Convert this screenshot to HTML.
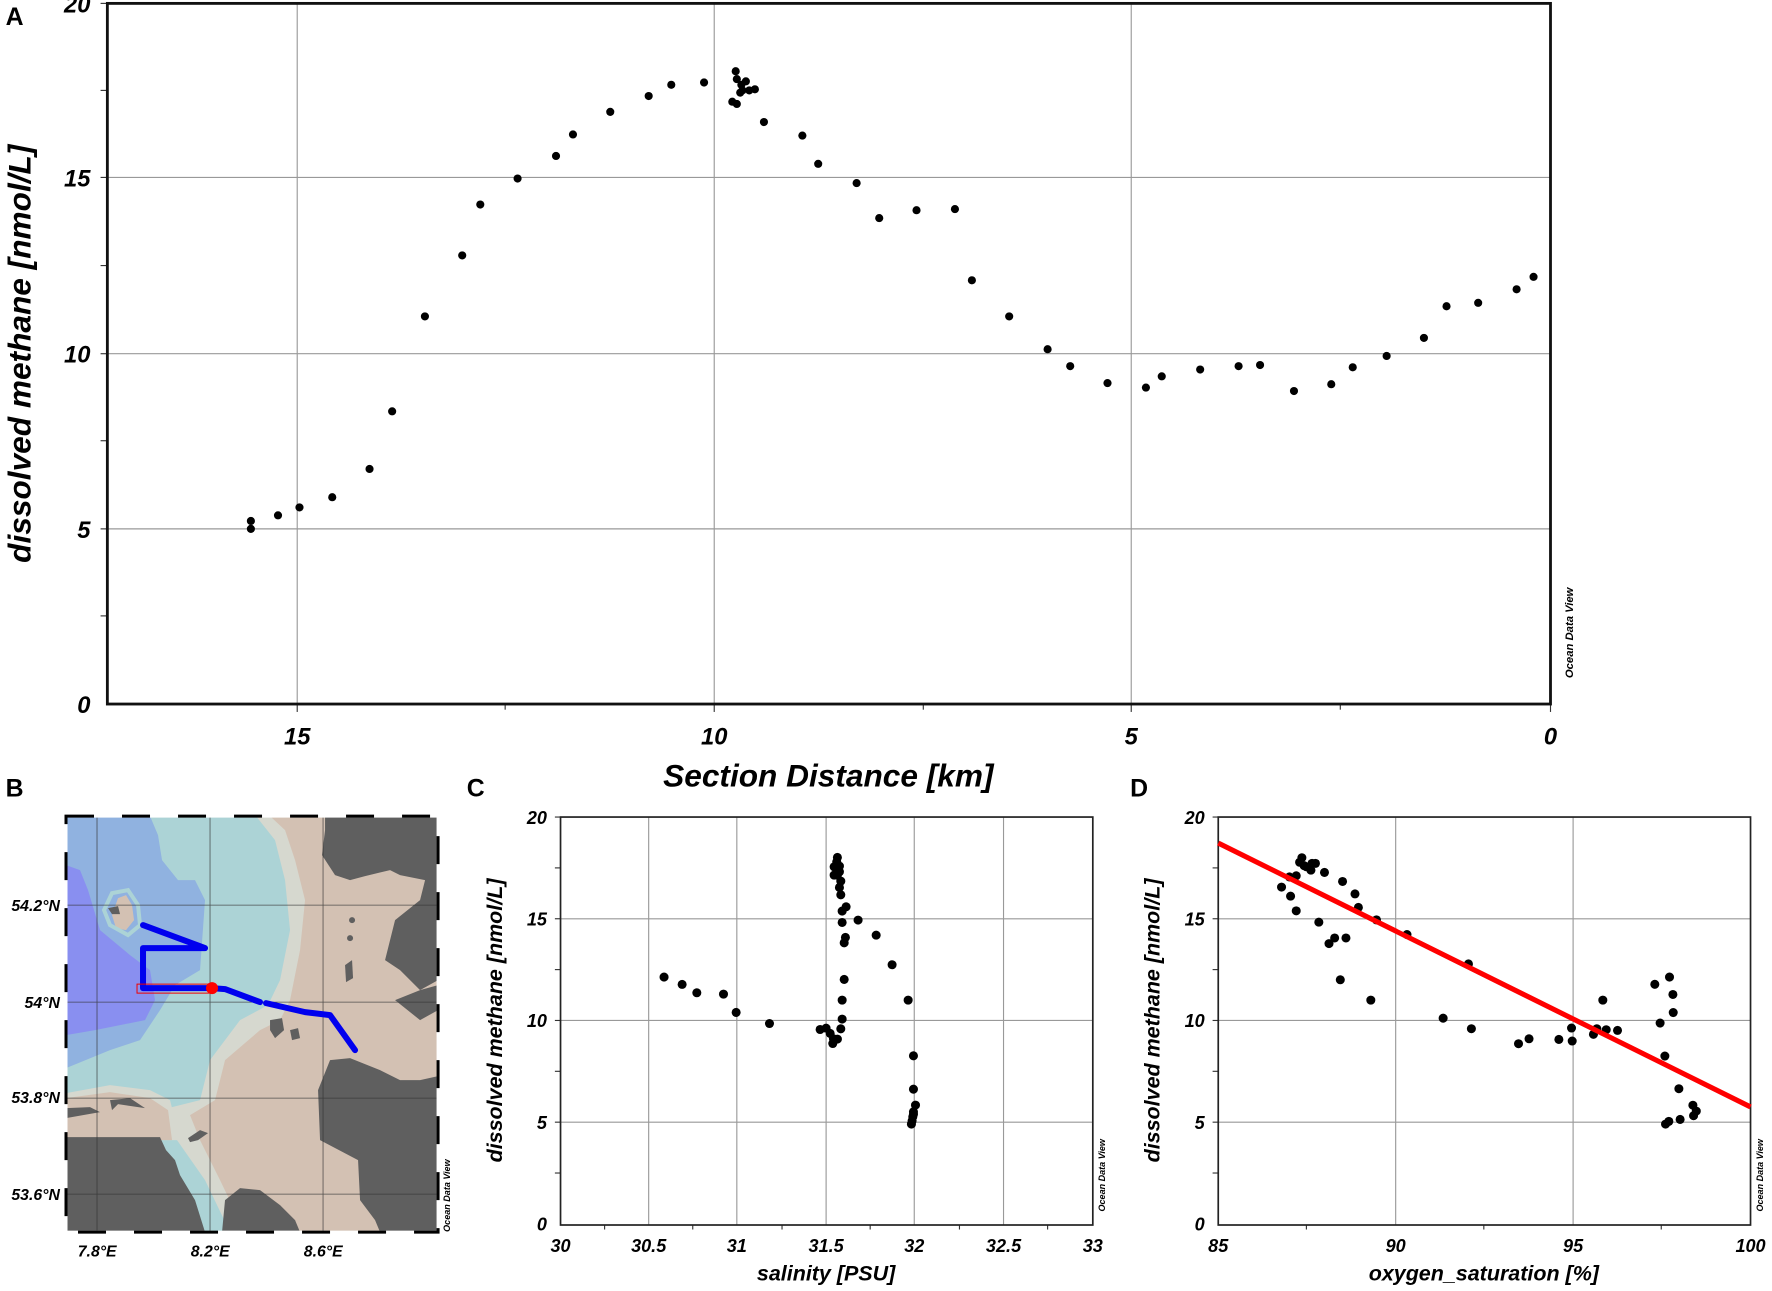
<!DOCTYPE html>
<html><head><meta charset="utf-8"><style>
html,body{margin:0;padding:0;background:#fff}
svg{display:block}
text{font-family:"Liberation Sans",Arial,sans-serif;fill:#000}
.t{font-weight:bold;font-style:italic}
</style></head><body>
<svg width="1772" height="1291" viewBox="0 0 1568 1142.4" xmlns="http://www.w3.org/2000/svg" preserveAspectRatio="none">
<rect width="1568" height="1143" fill="#fff"/>
<!-- Panel A -->
<g stroke="#999" stroke-width="1">
<line x1="263" y1="3" x2="263" y2="623"/><line x1="632" y1="3" x2="632" y2="623"/><line x1="1001" y1="3" x2="1001" y2="623"/>
<line x1="95" y1="157" x2="1372" y2="157"/><line x1="95" y1="313" x2="1372" y2="313"/><line x1="95" y1="468" x2="1372" y2="468"/>
</g>
<g stroke="#333" stroke-width="1">
<line x1="89" y1="3" x2="95" y2="3"/><line x1="89" y1="80" x2="95" y2="80"/><line x1="89" y1="157" x2="95" y2="157"/><line x1="89" y1="235" x2="95" y2="235"/><line x1="89" y1="313" x2="95" y2="313"/><line x1="89" y1="390" x2="95" y2="390"/><line x1="89" y1="468" x2="95" y2="468"/><line x1="89" y1="545" x2="95" y2="545"/>
<line x1="263" y1="623" x2="263" y2="630"/><line x1="632" y1="623" x2="632" y2="630"/><line x1="1001" y1="623" x2="1001" y2="630"/><line x1="1372" y1="623" x2="1372" y2="630"/>
<line x1="447" y1="623" x2="447" y2="628"/><line x1="817" y1="623" x2="817" y2="628"/><line x1="1186" y1="623" x2="1186" y2="628"/>
</g>
<rect x="95" y="3" width="1277" height="620" fill="none" stroke="#111" stroke-width="2.5"/>
<g class="t" font-size="21" text-anchor="end">
<text x="80" y="11">20</text><text x="80" y="165">15</text><text x="80" y="321">10</text><text x="80" y="476">5</text><text x="80" y="631">0</text>
</g>
<g class="t" font-size="21" text-anchor="middle">
<text x="263" y="659">15</text><text x="632" y="659">10</text><text x="1001" y="659">5</text><text x="1372" y="659">0</text>
</g>
<text class="t" x="733" y="696" font-size="28" text-anchor="middle">Section Distance [km]</text>
<text class="t" font-size="28" text-anchor="middle" transform="translate(27,313) rotate(-90)">dissolved methane [nmol/L]</text>
<text x="1392" y="560" font-size="10" font-style="italic" font-weight="bold" text-anchor="middle" transform="rotate(-90 1392 560)">Ocean Data View</text>
<text x="5" y="22" font-size="22" font-weight="bold">A</text>
<g fill="#000">
<circle cx="222" cy="461" r="3.6"/><circle cx="222" cy="468" r="3.6"/><circle cx="246" cy="456" r="3.6"/><circle cx="265" cy="449" r="3.6"/><circle cx="294" cy="440" r="3.6"/><circle cx="327" cy="415" r="3.6"/><circle cx="347" cy="364" r="3.6"/><circle cx="376" cy="280" r="3.6"/><circle cx="409" cy="226" r="3.6"/><circle cx="425" cy="181" r="3.6"/><circle cx="458" cy="158" r="3.6"/><circle cx="492" cy="138" r="3.6"/><circle cx="507" cy="119" r="3.6"/><circle cx="540" cy="99" r="3.6"/><circle cx="574" cy="85" r="3.6"/><circle cx="594" cy="75" r="3.6"/><circle cx="623" cy="73" r="3.6"/><circle cx="651" cy="63" r="3.6"/><circle cx="652" cy="70" r="3.6"/><circle cx="656" cy="75" r="3.6"/><circle cx="648" cy="90" r="3.6"/><circle cx="652" cy="92" r="3.6"/><circle cx="657" cy="80" r="3.6"/><circle cx="660" cy="72" r="3.6"/><circle cx="655" cy="82" r="3.6"/><circle cx="663" cy="80" r="3.6"/><circle cx="668" cy="79" r="3.6"/><circle cx="676" cy="108" r="3.6"/><circle cx="710" cy="120" r="3.6"/><circle cx="724" cy="145" r="3.6"/><circle cx="758" cy="162" r="3.6"/><circle cx="778" cy="193" r="3.6"/><circle cx="811" cy="186" r="3.6"/><circle cx="845" cy="185" r="3.6"/><circle cx="860" cy="248" r="3.6"/><circle cx="893" cy="280" r="3.6"/><circle cx="927" cy="309" r="3.6"/><circle cx="947" cy="324" r="3.6"/><circle cx="980" cy="339" r="3.6"/><circle cx="1014" cy="343" r="3.6"/><circle cx="1028" cy="333" r="3.6"/><circle cx="1062" cy="327" r="3.6"/><circle cx="1096" cy="324" r="3.6"/><circle cx="1115" cy="323" r="3.6"/><circle cx="1145" cy="346" r="3.6"/><circle cx="1178" cy="340" r="3.6"/><circle cx="1197" cy="325" r="3.6"/><circle cx="1227" cy="315" r="3.6"/><circle cx="1260" cy="299" r="3.6"/><circle cx="1280" cy="271" r="3.6"/><circle cx="1308" cy="268" r="3.6"/><circle cx="1342" cy="256" r="3.6"/><circle cx="1357" cy="245" r="3.6"/>
</g>

<!-- Panel B (map) -->
<text x="5" y="705" font-size="22" font-weight="bold">B</text>
<g transform="scale(0.885)">
<defs><clipPath id="mc"><rect x="66" y="816" width="372" height="416"/></clipPath></defs>
<g clip-path="url(#mc)">
<rect x="66" y="816" width="372" height="416" fill="#acd3d6"/>
<path d="M66 816 L150 816 L158 835 L162 860 L178 880 L195 880 L205 900 L200 970 L175 985 L160 1010 L140 1040 L110 1050 L66 1068 Z" fill="#90b2e0"/>
<path d="M66 865 L80 870 L88 890 L100 930 L130 955 L150 970 L155 1000 L145 1020 L120 1025 L95 1030 L66 1035 Z" fill="#898ff0"/>
<path d="M112 915 L118 898 L126 895 L132 905 L134 920 L126 930 L116 928 Z" fill="#d3c1b3"/>
<path d="M110 925 L104 910 L112 893 L128 890 L138 905 L140 925 L128 935 Z" fill="none" stroke="#acd3d6" stroke-width="4"/>
<path d="M256 816 L438 816 L438 1232 L230 1232 L205 1180 L170 1130 L160 1110 L200 1100 L210 1060 L240 1020 L268 1005 L280 980 L290 930 L285 880 L275 840 Z" fill="#d6d8cf"/>
<path d="M270 816 L438 816 L438 1232 L245 1232 L220 1180 L200 1140 L190 1115 L215 1100 L225 1060 L260 1030 L280 1020 L290 1000 L300 950 L305 900 L295 860 L285 830 Z" fill="#d3c1b3"/>
<path d="M66 1093 L110 1085 L150 1090 L170 1100 L180 1140 L66 1140 Z" fill="#d6d8cf"/>
<path d="M66 1098 L110 1092 L150 1098 L168 1110 L172 1140 L66 1140 Z" fill="#d3c1b3"/>
<g fill="#5f5f5f">
<path d="M325 816 L438 816 L438 980 L420 990 L400 970 L385 960 L395 920 L420 900 L425 880 L400 875 L390 870 L365 876 L350 880 L335 875 L322 855 L325 830 Z"/>
<path d="M395 1000 L420 990 L438 985 L438 1010 L420 1020 Z"/>
<path d="M330 1060 L350 1058 L380 1070 L400 1080 L420 1080 L438 1076 L438 1232 L380 1232 L375 1220 L360 1200 L358 1160 L320 1140 L318 1090 Z"/>
<path d="M66 1137 L160 1137 L166 1150 L175 1160 L180 1175 L195 1200 L205 1232 L66 1232 Z"/>
<path d="M222 1232 L225 1200 L240 1188 L260 1190 L280 1205 L295 1220 L300 1232 Z"/>
<path d="M66 1108 L90 1107 L100 1112 L66 1118 Z"/>
<path d="M110 1100 L130 1098 L145 1108 L118 1104 L112 1110 Z"/>
<path d="M188 1138 L200 1130 L208 1133 L198 1140 L190 1142 Z"/>
<path d="M270 1020 L282 1018 L284 1030 L275 1038 L270 1030 Z"/>
<path d="M290 1030 L298 1028 L300 1038 L292 1040 Z"/>
<circle cx="352" cy="920" r="3"/><circle cx="350" cy="938" r="3"/><path d="M345 965 L352 960 L353 978 L346 982 Z"/>
<path d="M108 908 L118 906 L120 914 L112 914 Z"/>
</g>
<g stroke="#333" stroke-width="0.8" opacity="0.8">
<line x1="97" y1="816" x2="97" y2="1232"/><line x1="210" y1="816" x2="210" y2="1232"/><line x1="323" y1="816" x2="323" y2="1232"/>
<line x1="66" y1="905" x2="438" y2="905"/><line x1="66" y1="1002" x2="438" y2="1002"/><line x1="66" y1="1098" x2="438" y2="1098"/><line x1="66" y1="1194" x2="438" y2="1194"/>
</g>
<g fill="none" stroke="#0000ee" stroke-width="6" stroke-linecap="round" stroke-linejoin="round">
<polyline points="143,925 205,948 143,948 143,988 212,988 225,989 260,1002"/>
<polyline points="266,1003 305,1012 330,1015 355,1050"/>
</g>
<rect x="137" y="984" width="75" height="9" fill="none" stroke="#e00" stroke-width="1"/>
<circle cx="212" cy="988" r="6" fill="#f00"/>
</g>
<rect x="66" y="816" width="372" height="416" fill="none" stroke="#fff" stroke-width="3"/>
<rect x="66" y="816" width="372" height="416" fill="none" stroke="#000" stroke-width="3" stroke-dasharray="28 28"/>
</g>
<g class="t" font-size="14" text-anchor="end">
<text x="53" y="806">54.2°N</text><text x="53" y="892">54°N</text><text x="53" y="976">53.8°N</text><text x="53" y="1062">53.6°N</text>
</g>
<g class="t" font-size="14" text-anchor="middle">
<text x="86" y="1112">7.8°E</text><text x="186" y="1112">8.2°E</text><text x="286" y="1112">8.6°E</text>
</g>
<text x="398" y="1058" font-size="8" font-style="italic" font-weight="bold" text-anchor="middle" transform="rotate(-90 398 1058)">Ocean Data View</text>

<!-- Panel C -->
<text x="413" y="705" font-size="22" font-weight="bold">C</text>
<g stroke="#999" stroke-width="1">
<line x1="574" y1="723" x2="574" y2="1084"/><line x1="652" y1="723" x2="652" y2="1084"/><line x1="731" y1="723" x2="731" y2="1084"/><line x1="809" y1="723" x2="809" y2="1084"/><line x1="888" y1="723" x2="888" y2="1084"/>
<line x1="496" y1="813" x2="967" y2="813"/><line x1="496" y1="903" x2="967" y2="903"/><line x1="496" y1="993" x2="967" y2="993"/>
</g>
<g stroke="#333"><line x1="491" y1="723" x2="496" y2="723"/><line x1="491" y1="768" x2="496" y2="768"/><line x1="491" y1="813" x2="496" y2="813"/><line x1="491" y1="858" x2="496" y2="858"/><line x1="491" y1="903" x2="496" y2="903"/><line x1="491" y1="948" x2="496" y2="948"/><line x1="491" y1="993" x2="496" y2="993"/><line x1="491" y1="1038" x2="496" y2="1038"/>
<line x1="535" y1="1084" x2="535" y2="1088"/><line x1="613" y1="1084" x2="613" y2="1088"/><line x1="692" y1="1084" x2="692" y2="1088"/><line x1="770" y1="1084" x2="770" y2="1088"/><line x1="849" y1="1084" x2="849" y2="1088"/><line x1="927" y1="1084" x2="927" y2="1088"/></g>
<rect x="496" y="723" width="471" height="361" fill="none" stroke="#222" stroke-width="1.5"/>
<g class="t" font-size="16" text-anchor="end">
<text x="484" y="729">20</text><text x="484" y="819">15</text><text x="484" y="909">10</text><text x="484" y="999">5</text><text x="484" y="1089">0</text>
</g>
<g class="t" font-size="16" text-anchor="middle">
<text x="496" y="1108">30</text><text x="574" y="1108">30.5</text><text x="652" y="1108">31</text><text x="731" y="1108">31.5</text><text x="809" y="1108">32</text><text x="888" y="1108">32.5</text><text x="967" y="1108">33</text>
</g>
<text class="t" x="731" y="1133" font-size="19" text-anchor="middle">salinity [PSU]</text>
<text class="t" font-size="19" text-anchor="middle" transform="translate(444,903) rotate(-90)">dissolved methane [nmol/L]</text>
<text x="978" y="1040" font-size="8" font-style="italic" font-weight="bold" text-anchor="middle" transform="rotate(-90 978 1040)">Ocean Data View</text>
<g fill="#000">
<circle cx="587.6" cy="864.6" r="4"/><circle cx="603.6" cy="871.1" r="4"/><circle cx="616.6" cy="878.5" r="4"/><circle cx="640.2" cy="879.7" r="4"/><circle cx="651.4" cy="895.9" r="4"/><circle cx="680.9" cy="905.7" r="4"/><circle cx="725.7" cy="911" r="4"/><circle cx="731" cy="909.8" r="4"/><circle cx="734.6" cy="914.5" r="4"/><circle cx="736.9" cy="923.4" r="4"/><circle cx="737.5" cy="919.2" r="4"/><circle cx="741" cy="919.5" r="4"/><circle cx="744" cy="910.4" r="4"/><circle cx="745.2" cy="901.8" r="4"/><circle cx="745.2" cy="885" r="4"/><circle cx="747" cy="866.7" r="4"/><circle cx="747" cy="834.3" r="4"/><circle cx="748.1" cy="829.5" r="4"/><circle cx="745.2" cy="816.3" r="4"/><circle cx="745.2" cy="806.2" r="4"/><circle cx="748.7" cy="802.4" r="4"/><circle cx="744" cy="791.8" r="4"/><circle cx="742.8" cy="785.3" r="4"/><circle cx="744" cy="779.7" r="4"/><circle cx="741" cy="774.4" r="4"/><circle cx="738.1" cy="774.4" r="4"/><circle cx="738.1" cy="767" r="4"/><circle cx="740.4" cy="762.6" r="4"/><circle cx="741" cy="758.7" r="4"/><circle cx="742.8" cy="766.4" r="4"/><circle cx="742.8" cy="771.4" r="4"/><circle cx="759.3" cy="814.2" r="4"/><circle cx="775.3" cy="827.5" r="4"/><circle cx="789.4" cy="853.7" r="4"/><circle cx="803.6" cy="885" r="4"/><circle cx="808.3" cy="934.3" r="4"/><circle cx="808.3" cy="963.8" r="4"/><circle cx="810.1" cy="977.9" r="4"/><circle cx="808.3" cy="983.8" r="4"/><circle cx="807.7" cy="988.3" r="4"/><circle cx="807.1" cy="991.8" r="4"/><circle cx="806.5" cy="994.7" r="4"/><circle cx="808.3" cy="985.9" r="4"/>
</g>

<!-- Panel D -->
<text x="1000" y="705" font-size="22" font-weight="bold">D</text>
<g stroke="#999" stroke-width="1">
<line x1="1235" y1="723" x2="1235" y2="1084"/><line x1="1392" y1="723" x2="1392" y2="1084"/>
<line x1="1078" y1="813" x2="1549" y2="813"/><line x1="1078" y1="903" x2="1549" y2="903"/><line x1="1078" y1="993" x2="1549" y2="993"/>
</g>
<g stroke="#333"><line x1="1073" y1="723" x2="1078" y2="723"/><line x1="1073" y1="768" x2="1078" y2="768"/><line x1="1073" y1="813" x2="1078" y2="813"/><line x1="1073" y1="858" x2="1078" y2="858"/><line x1="1073" y1="903" x2="1078" y2="903"/><line x1="1073" y1="948" x2="1078" y2="948"/><line x1="1073" y1="993" x2="1078" y2="993"/><line x1="1073" y1="1038" x2="1078" y2="1038"/>
<line x1="1156" y1="1084" x2="1156" y2="1088"/><line x1="1313" y1="1084" x2="1313" y2="1088"/><line x1="1470" y1="1084" x2="1470" y2="1088"/></g>
<rect x="1078" y="723" width="471" height="361" fill="none" stroke="#222" stroke-width="1.5"/>
<g class="t" font-size="16" text-anchor="end">
<text x="1066" y="729">20</text><text x="1066" y="819">15</text><text x="1066" y="909">10</text><text x="1066" y="999">5</text><text x="1066" y="1089">0</text>
</g>
<g class="t" font-size="16" text-anchor="middle">
<text x="1078" y="1108">85</text><text x="1235" y="1108">90</text><text x="1392" y="1108">95</text><text x="1549" y="1108">100</text>
</g>
<text class="t" x="1313" y="1133" font-size="19" text-anchor="middle">oxygen_saturation [%]</text>
<text class="t" font-size="19" text-anchor="middle" transform="translate(1026,903) rotate(-90)">dissolved methane [nmol/L]</text>
<text x="1560" y="1040" font-size="8" font-style="italic" font-weight="bold" text-anchor="middle" transform="rotate(-90 1560 1040)">Ocean Data View</text>
<g fill="#000">
<circle cx="1134" cy="785" r="4"/><circle cx="1142" cy="793" r="4"/><circle cx="1147" cy="806" r="4"/><circle cx="1141" cy="776" r="4"/><circle cx="1147" cy="775" r="4"/><circle cx="1152" cy="759" r="4"/><circle cx="1150" cy="763" r="4"/><circle cx="1154" cy="766" r="4"/><circle cx="1156" cy="767" r="4"/><circle cx="1161" cy="764" r="4"/><circle cx="1164" cy="764" r="4"/><circle cx="1160" cy="770" r="4"/><circle cx="1172" cy="772" r="4"/><circle cx="1188" cy="780" r="4"/><circle cx="1199" cy="791" r="4"/><circle cx="1202" cy="803" r="4"/><circle cx="1167" cy="816" r="4"/><circle cx="1176" cy="835" r="4"/><circle cx="1181" cy="830" r="4"/><circle cx="1191" cy="830" r="4"/><circle cx="1186" cy="867" r="4"/><circle cx="1213" cy="885" r="4"/><circle cx="1218" cy="814" r="4"/><circle cx="1245" cy="827" r="4"/><circle cx="1277" cy="901" r="4"/>
<circle cx="1299.4" cy="853" r="4"/><circle cx="1302" cy="910.3" r="4"/><circle cx="1343.7" cy="923.6" r="4"/><circle cx="1353" cy="919.2" r="4"/><circle cx="1379.4" cy="919.8" r="4"/><circle cx="1390.6" cy="909.7" r="4"/><circle cx="1391.2" cy="921.2" r="4"/><circle cx="1410" cy="915.3" r="4"/><circle cx="1413" cy="910.3" r="4"/><circle cx="1421.3" cy="911.2" r="4"/><circle cx="1431.3" cy="911.8" r="4"/><circle cx="1418.3" cy="885" r="4"/><circle cx="1464.3" cy="871" r="4"/><circle cx="1477.3" cy="864.6" r="4"/><circle cx="1480.3" cy="880" r="4"/><circle cx="1480.6" cy="896" r="4"/><circle cx="1469" cy="905.3" r="4"/><circle cx="1473.2" cy="934.5" r="4"/><circle cx="1485.6" cy="963.4" r="4"/><circle cx="1498" cy="978" r="4"/><circle cx="1501" cy="983.2" r="4"/><circle cx="1498.6" cy="987.3" r="4"/><circle cx="1486.7" cy="990.6" r="4"/><circle cx="1476.7" cy="992.3" r="4"/><circle cx="1473.8" cy="994.7" r="4"/>
</g>
<line x1="1078" y1="746" x2="1549" y2="979.5" stroke="#f00" stroke-width="4.5"/>
</svg>
</body></html>
